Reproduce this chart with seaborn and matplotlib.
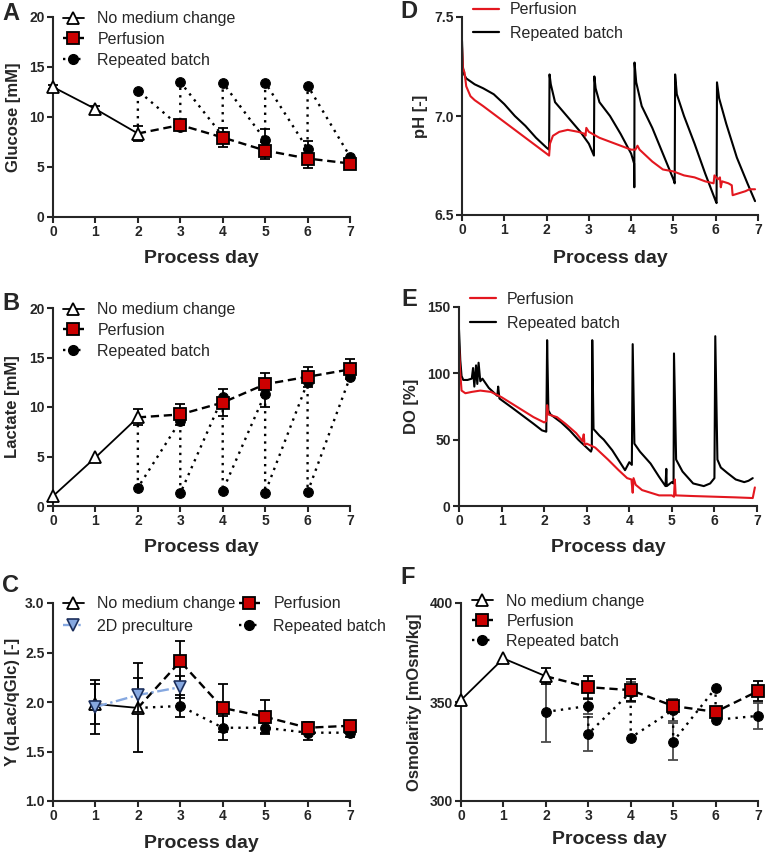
import matplotlib
matplotlib.use("Agg")
import matplotlib.pyplot as plt
from matplotlib.lines import Line2D
import seaborn as sns

# ---- data ----
days = [0, 1, 2, 3, 4, 5, 6, 7]

# A: glucose [mM]
glc_nmc_day = [0, 1, 2]
glc_nmc = [13.0, 10.8, 8.35]
glc_nmc_err = [0.2, 0.3, 0.75]
glc_perf_day = [2, 3, 4, 5, 6, 7]
glc_perf = [8.35, 9.2, 7.95, 6.65, 5.85, 5.35]
glc_perf_err = [0, 0.45, 0.95, 0.85, 0.95, 0.5]
glc_rb_day = [2, 2, 3, 3, 4, 4, 5, 5, 6, 6, 7]
glc_rb = [8.35, 12.65, 9.0, 13.5, 8.1, 13.45, 7.7, 13.45, 6.8, 13.15, 6.05]
glc_rb_err = [0, 0, 0, 0, 0, 0, 1.15, 0, 0.85, 0, 0]

# B: lactate [mM]
lac_nmc_day = [0, 1, 2]
lac_nmc = [1.0, 4.9, 8.95]
lac_nmc_err = [0, 0, 0.8]
lac_perf_day = [2, 3, 4, 5, 6, 7]
lac_perf = [8.95, 9.25, 10.45, 12.3, 13.05, 13.8]
lac_perf_err = [0, 1.05, 1.4, 1.1, 1.0, 1.0]
lac_rb_day = [2, 2, 3, 3, 4, 4, 5, 5, 6, 6, 7]
lac_rb = [8.95, 1.85, 8.6, 1.28, 11.0, 1.55, 11.35, 1.35, 12.5, 1.4, 13.0]
lac_rb_err = [0, 0, 0, 0, 0, 0, 1.3, 0, 0, 0, 0]

# C: yield qLac/qGlc [-]
y_nmc_day = [1, 2]
y_nmc = [1.98, 1.94]
y_nmc_err = [0.2, 0.45]
y_2d_day = [1, 2, 3]
y_2d = [1.95, 2.07, 2.15]
y_2d_err = [0.27, 0.17, 0.11]
y_perf_day = [2, 3, 4, 5, 6, 7]
y_perf = [1.94, 2.41, 1.94, 1.85, 1.74, 1.76]
y_perf_err = [0, 0.21, 0.24, 0.17, 0.06, 0.03]
y_rb_day = [2, 3, 4, 5, 6, 7]
y_rb = [1.94, 1.96, 1.74, 1.74, 1.69, 1.69]
y_rb_err = [0, 0.11, 0.12, 0.05, 0.07, 0.04]

# D: pH time courses
ph_rb_t = [0.0, 0.02, 0.05, 0.1, 0.3, 0.5, 0.75, 1.0, 1.25, 1.5, 1.75, 2.0, 2.06,
           2.07, 2.1, 2.2, 2.4, 2.6, 2.8, 3.0, 3.12,
           3.13, 3.16, 3.25, 3.5, 3.75, 4.0, 4.07, 4.075,
           4.08, 4.12, 4.25, 4.5, 4.75, 5.0, 5.03,
           5.04, 5.08, 5.25, 5.5, 5.75, 6.0, 6.02,
           6.03, 6.08, 6.25, 6.5, 6.75, 6.93]
ph_rb = [7.38, 7.25, 7.21, 7.19, 7.16, 7.14, 7.11, 7.06, 7.0, 6.95, 6.89, 6.84, 6.83,
         7.21, 7.16, 7.07, 7.02, 6.97, 6.92, 6.86, 6.80,
         7.20, 7.14, 7.07, 7.0, 6.91, 6.81, 6.76, 6.64,
         7.27, 7.17, 7.05, 6.94, 6.81, 6.68, 6.66,
         7.21, 7.11, 7.0, 6.86, 6.71, 6.57, 6.56,
         7.17, 7.09, 6.96, 6.79, 6.66, 6.57]
ph_perf_t = [0.0, 0.02, 0.06, 0.1, 0.2, 0.3, 0.5, 0.75, 1.0, 1.25, 1.5, 1.75, 2.0, 2.06,
             2.08, 2.15, 2.3, 2.5, 2.75, 2.9, 2.92, 2.94, 3.0, 3.25, 3.5, 3.75, 4.0,
             4.1, 4.15, 4.2, 4.5, 4.75, 5.0, 5.25, 5.5, 5.75, 5.95, 5.97, 6.05, 6.1,
             6.12, 6.15, 6.3, 6.38, 6.4, 6.55, 6.7, 6.8, 6.93]
ph_perf = [7.35, 7.24, 7.22, 7.15, 7.10, 7.08, 7.05, 7.01, 6.97, 6.93, 6.89, 6.85, 6.81, 6.80,
           6.86, 6.90, 6.92, 6.93, 6.92, 6.91, 6.90, 6.94, 6.92, 6.89, 6.87, 6.85, 6.83,
           6.83, 6.85, 6.83, 6.77, 6.73, 6.72, 6.70, 6.69, 6.67, 6.66, 6.70, 6.68, 6.69,
           6.64, 6.67, 6.66, 6.65, 6.60, 6.61, 6.62, 6.63, 6.63]

# E: dissolved oxygen time courses [%]
do_rb_t = [0.0, 0.03, 0.06, 0.1, 0.2, 0.3, 0.33, 0.36, 0.4, 0.43, 0.46, 0.5, 0.55, 0.7,
           0.9, 0.92, 0.95, 1.25, 1.5, 1.75, 1.95, 2.05,
           2.07, 2.1, 2.15, 2.4, 2.6, 2.8, 3.0, 3.1, 3.12,
           3.13, 3.16, 3.3, 3.4, 3.6, 3.8, 3.9, 4.0, 4.06,
           4.08, 4.12, 4.25, 4.5, 4.7, 4.85, 4.87, 4.88, 5.0, 5.04,
           5.05, 5.1, 5.25, 5.5, 5.75, 5.9, 6.0,
           6.02, 6.07, 6.15, 6.3, 6.5, 6.7, 6.8, 6.9]
do_rb = [133, 110, 98, 95, 95, 96, 104, 90, 106, 92, 108, 94, 96, 89,
         83, 90, 81, 74, 68, 62, 57, 56,
         125, 72, 69, 63, 57, 50, 44, 41, 43,
         125, 58, 53, 50, 42, 32, 27, 33, 31,
         122, 47, 41, 32, 22, 15, 28, 15, 18, 17,
         115, 35, 26, 17, 15, 17, 21,
         128, 35, 29, 25, 20, 18, 19, 21]
do_perf_t = [0.0, 0.03, 0.06, 0.15, 0.3, 0.5, 0.75, 1.0, 1.25, 1.5, 1.75, 2.0, 2.05,
             2.07, 2.1, 2.3, 2.5, 2.75, 2.9, 2.93, 2.95, 3.0, 3.2, 3.5, 3.75, 3.95,
             4.05, 4.08, 4.1, 4.15, 4.3, 4.5, 4.7, 5.0, 5.05, 5.07, 5.09, 5.5, 6.0,
             6.5, 6.9, 6.95]
do_perf = [120, 100, 87, 85, 86, 87, 86, 82, 77, 72, 67, 63, 64,
           76, 69, 67, 62, 55, 49, 54, 46, 47, 44, 35, 27, 21,
           20, 10, 21, 16, 12, 10, 8, 8, 7, 20, 8, 7.5, 7,
           6.5, 6, 14]

# F: osmolarity [mOsm/kg]
osm_nmc_day = [0, 1, 2]
osm_nmc = [351, 372, 363]
osm_nmc_err = [0, 0, 4]
osm_perf_day = [2, 3, 4, 5, 6, 7]
osm_perf = [363, 357.5, 356, 348, 345, 355.5]
osm_perf_err = [0, 5.8, 5.5, 2, 1, 5.2]
osm_rb_day = [2, 3, 3, 4, 4, 5, 5, 6, 6, 7]
osm_rb = [345, 348, 334, 355, 332, 346, 330, 357, 341, 343]
osm_rb_err = [15, 4, 8.5, 5, 0, 5.5, 9.5, 0, 0, 6.5]

RED = "#cc0000"
BLUE = "#86a8e0"
RED_LINE = "#e3171f"

sns.set_theme(style="ticks")
plt.rcParams["font.family"] = ["Liberation Sans", "DejaVu Sans"]
plt.rcParams["axes.linewidth"] = 1.5

fig = plt.figure(figsize=(7.65, 8.56), dpi=100)
W, H = 765, 856


def add_ax(left, top, right, bottom):
    return fig.add_axes([left / W, 1 - bottom / H, (right - left) / W, (bottom - top) / H])


ax_a = add_ax(53, 17, 350, 217)
ax_b = add_ax(53, 308, 350, 506)
ax_c = add_ax(53, 603, 350, 801)
ax_d = add_ax(462, 17, 758, 215)
ax_e = add_ax(459, 307, 757, 506)
ax_f = add_ax(461, 603, 758, 801)

nmc_kw = dict(color="black", linewidth=1.3, marker="^", markersize=8,
              markerfacecolor="white", markeredgecolor="black", markeredgewidth=1.3)
perf_kw = dict(color="black", linewidth=1.7, linestyle=(0, (3.5, 2)), marker="s",
               markersize=8, markerfacecolor=RED, markeredgecolor="black",
               markeredgewidth=1.3)
rb_kw = dict(color="black", linewidth=1.7, linestyle=(0, (1, 2.2)), marker="o",
             markersize=7, markerfacecolor="black", markeredgecolor="black")
pre_kw = dict(color=BLUE, linewidth=1.7, linestyle=(0, (5, 1.5, 1, 1.5)), marker="v",
              markersize=8, markerfacecolor=BLUE, markeredgecolor="#1c2f5c",
              markeredgewidth=1.2)


def series(ax, x, y, err, kw, z, start=0, ecolor="black"):
    sns.lineplot(x=x, y=y, ax=ax, sort=False, estimator=None,
                 markevery=slice(start, None), clip_on=False, zorder=z, **kw)
    xe = [a for a, e in zip(x, err) if e > 0]
    ye = [b for b, e in zip(y, err) if e > 0]
    ee = [e for e in err if e > 0]
    if ee:
        ax.errorbar(xe, ye, yerr=ee, fmt="none", ecolor=ecolor, elinewidth=1.3,
                    capsize=3.5, capthick=1.3, zorder=z - 0.5, clip_on=False)


def style(ax, ylim, yticks, ylabel, ylab_x, xlab_y):
    ax.set_xlim(0, 7)
    ax.set_ylim(*ylim)
    ax.set_xticks(days)
    ax.set_yticks(yticks)
    sns.despine(ax=ax)
    ax.tick_params(width=1.5, length=4, labelsize=10, pad=2)
    for t in ax.get_xticklabels() + ax.get_yticklabels():
        t.set_fontweight("bold")
    ax.set_xlabel("Process day", fontsize=14, fontweight="bold")
    ax.set_ylabel(ylabel, fontsize=12, fontweight="bold")
    ax.yaxis.set_label_coords(ylab_x, 0.5)
    ax.xaxis.set_label_coords(0.5, xlab_y)


def legend(ax, handles, labels, y, x=0.034, ncol=1, spacing=0.35, hl=1.3, pad=0.85):
    ax.legend(handles, labels, loc="upper left", bbox_to_anchor=(x, y), frameon=False,
              fontsize=11.5, borderpad=0, borderaxespad=0, ncol=ncol, columnspacing=0.2,
              labelspacing=spacing, handlelength=hl, handletextpad=pad, numpoints=1)


# legend handles: one marker in the middle of a short line
h_nmc = Line2D([], [], markevery=[1], **nmc_kw)
h_perf = Line2D([], [], markevery=[1], **perf_kw)
h_rb = Line2D([], [], markevery=[1], **rb_kw)
h_pre = Line2D([], [], markevery=[1], **pre_kw)
h_red = Line2D([], [], color=RED_LINE, linewidth=1.6)
h_blk = Line2D([], [], color="black", linewidth=1.6)
labels3 = ["No medium change", "Perfusion", "Repeated batch"]

# ---- A ----
series(ax_a, glc_rb_day, glc_rb, glc_rb_err, rb_kw, 3, start=1)
series(ax_a, glc_perf_day, glc_perf, glc_perf_err, perf_kw, 4, start=1)
series(ax_a, glc_nmc_day, glc_nmc, glc_nmc_err, nmc_kw, 5)
style(ax_a, (0, 20), [0, 5, 10, 15, 20], "Glucose [mM]", -0.108, -0.165)
legend(ax_a, [h_nmc, h_perf, h_rb], labels3, 1.028)

# ---- B ----
series(ax_b, lac_rb_day, lac_rb, lac_rb_err, rb_kw, 3, start=1)
series(ax_b, lac_perf_day, lac_perf, lac_perf_err, perf_kw, 4, start=1)
series(ax_b, lac_nmc_day, lac_nmc, lac_nmc_err, nmc_kw, 5)
style(ax_b, (0, 20), [0, 5, 10, 15, 20], "Lactate [mM]", -0.111, -0.166)
legend(ax_b, [h_nmc, h_perf, h_rb], labels3, 1.028)

# ---- C ----
series(ax_c, y_rb_day, y_rb, y_rb_err, rb_kw, 3, start=1)
series(ax_c, y_perf_day, y_perf, y_perf_err, perf_kw, 4, start=1)
series(ax_c, y_nmc_day, y_nmc, y_nmc_err, nmc_kw, 5)
series(ax_c, y_2d_day, y_2d, y_2d_err, pre_kw, 6)
style(ax_c, (1.0, 3.0), [1.0, 1.5, 2.0, 2.5, 3.0], "Y (qLac/qGlc) [-]", -0.111, -0.172)
ax_c.yaxis.set_major_formatter(matplotlib.ticker.FormatStrFormatter("%.1f"))
legend(ax_c, [h_nmc, h_pre, h_perf, h_rb],
       ["No medium change", "2D preculture", "Perfusion", "Repeated batch"], 1.033,
       ncol=2, spacing=0.45)

# ---- D ----
sns.lineplot(x=ph_rb_t, y=ph_rb, ax=ax_d, sort=False, estimator=None, color="black",
             linewidth=1.5)
sns.lineplot(x=ph_perf_t, y=ph_perf, ax=ax_d, sort=False, estimator=None, color=RED_LINE,
             linewidth=1.5)
style(ax_d, (6.5, 7.5), [6.5, 7.0, 7.5], "pH [-]", -0.115, -0.177)
ax_d.yaxis.set_major_formatter(matplotlib.ticker.FormatStrFormatter("%.1f"))
legend(ax_d, [h_red, h_blk], ["Perfusion", "Repeated batch"], 1.075, x=0.037,
       spacing=0.55, hl=1.6, pad=0.7)

# ---- E ----
sns.lineplot(x=do_rb_t, y=do_rb, ax=ax_e, sort=False, estimator=None, color="black",
             linewidth=1.5)
sns.lineplot(x=do_perf_t, y=do_perf, ax=ax_e, sort=False, estimator=None, color=RED_LINE,
             linewidth=1.5)
style(ax_e, (0, 150), [0, 50, 100, 150], "DO [%]", -0.134, -0.166)
legend(ax_e, [h_red, h_blk], ["Perfusion", "Repeated batch"], 1.075, x=0.037,
       spacing=0.55, hl=1.6, pad=0.7)

# ---- F ----
series(ax_f, osm_rb_day, osm_rb, osm_rb_err, rb_kw, 3, ecolor="#4a4a4a")
series(ax_f, osm_perf_day, osm_perf, osm_perf_err, perf_kw, 4, start=1)
series(ax_f, osm_nmc_day, osm_nmc, osm_nmc_err, nmc_kw, 5)
style(ax_f, (300, 400), [300, 350, 400], "Osmolarity [mOsm/kg]", -0.131, -0.15)
legend(ax_f, [h_nmc, h_perf, h_rb], labels3, 1.045, x=0.037, spacing=0.3)

# panel letters
for letter, px, py in [("A", 2, 13), ("B", 2, 303), ("C", 2, 585),
                       ("D", 400, 12), ("E", 401, 300), ("F", 400, 577)]:
    fig.text(px / W, 1 - py / H, letter, fontsize=17, fontweight="bold",
             ha="left", va="center")

fig.savefig("out.png", dpi=100)
